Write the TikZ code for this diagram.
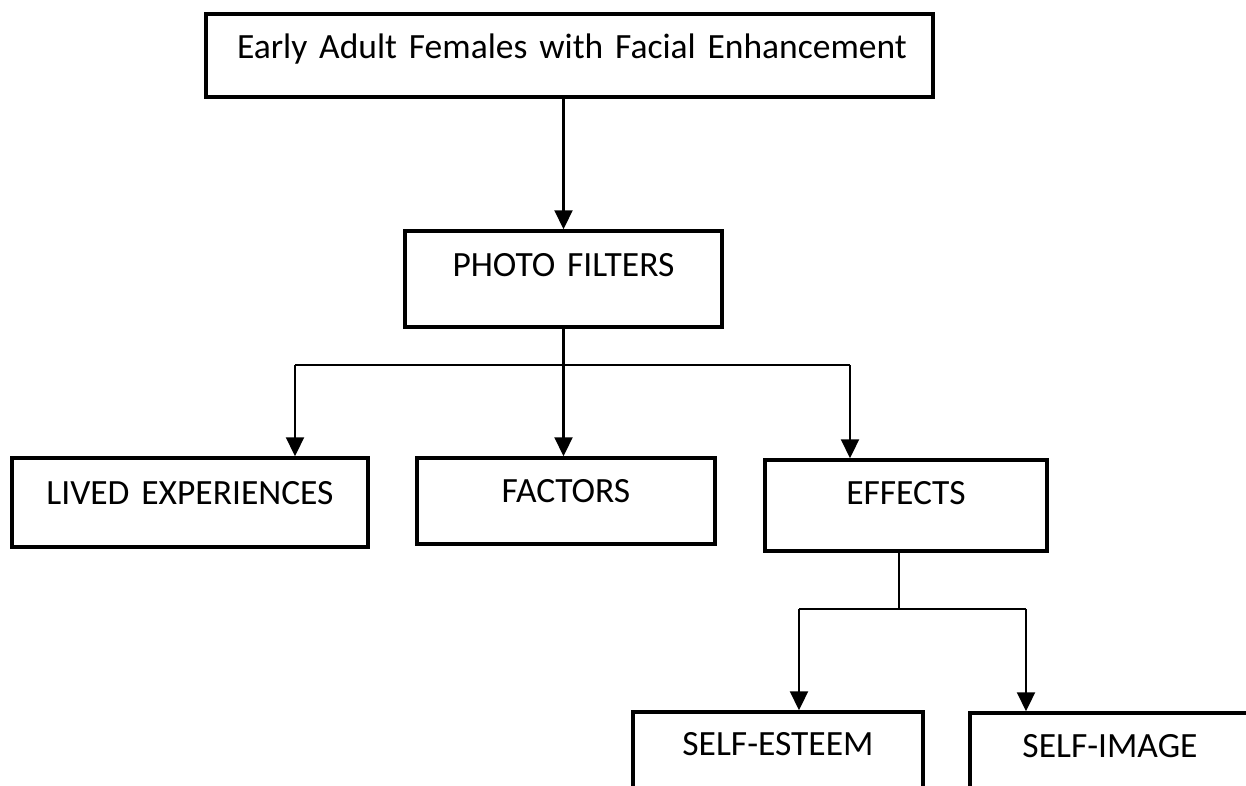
\documentclass[tikz,border=0pt]{standalone}
\usepackage{fontspec}
\setmainfont{Carlito}[WordSpace=0.7]
\usetikzlibrary{arrows.meta,calc}
\begin{document}
\begin{tikzpicture}[x=1pt,y=-1pt,
  box/.style={draw,line width=3.5pt,inner sep=0pt,align=center,anchor=base,
    font=\fontsize{35.5}{43}\selectfont},
  conn/.style={line width=2.2pt},
  arr/.style={conn,-{Triangle[width=18pt,length=19pt]}}]
\useasboundingbox (0,0) rectangle (1246,785);
\clip (0,0) rectangle (1246,785);
\node[box,text width=727pt,text height=44pt,text depth=39pt] (top) at (569.5,58) {\hspace*{5pt}Early Adult Females with Facial Enhancement};
\node[box,text width=317pt,text height=45pt,text depth=51pt] (photo) at (563.5,276) {PHOTO FILTERS};
\node[box,text width=356pt,text height=46pt,text depth=43pt] (lived) at (190,504) {LIVED EXPERIENCES};
\node[box,text width=298pt,text height=44pt,text depth=42pt] (factors) at (566,502) {FACTORS};
\node[box,text width=282pt,text height=44pt,text depth=47pt] (effects) at (906,504) {EFFECTS};
\node[box,text width=290pt,text height=43pt,text depth=60pt] (esteem) at (778,755) {SELF-ESTEEM};
\node[box,text width=280pt,text height=44pt,text depth=60pt] (image) at (1110,757) {SELF-IMAGE};
% connectors
\draw[arr] (photo.north |- top.south) -- (photo.north);
\coordinate (j1) at (563.5,365);
\coordinate (la) at (295,365);
\coordinate (ea) at (850,365);
\draw[conn] (photo.south) -- (j1);
\draw[conn] (la) -- (ea);
\draw[arr] (la) -- (la |- lived.north);
\draw[arr] (j1) -- (j1 |- factors.north);
\draw[arr] (ea) -- (ea |- effects.north);
\coordinate (j2) at (899,609);
\coordinate (sa) at (799,609);
\coordinate (ia) at (1026,609);
\draw[conn] (j2 |- effects.south) -- (j2);
\draw[conn] (sa) -- (ia);
\draw[arr] (sa) -- (sa |- esteem.north);
\draw[arr] (ia) -- (ia |- image.north);
\end{tikzpicture}
\end{document}
